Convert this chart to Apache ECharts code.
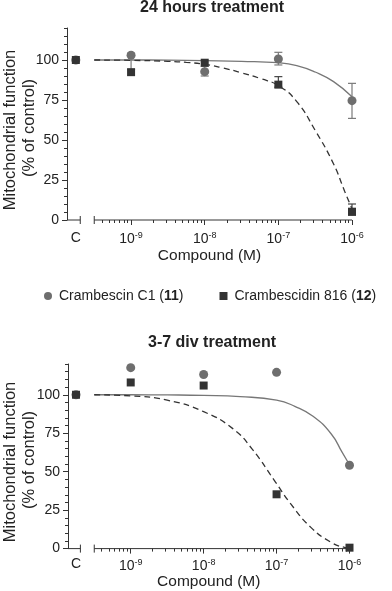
<!DOCTYPE html>
<html><head><meta charset="utf-8">
<script src="https://cdn.jsdelivr.net/npm/echarts@6/dist/echarts.min.js"></script>
<style>html,body{margin:0;padding:0;background:#fff}#c{width:392px;height:591px}</style>
</head><body><div id="c"></div>
<script>
// ---------- data ----------
const C_POS = -9.75;                       // log10 position used for the control "C"
const xValues = [C_POS, -9, -8, -7, -6];   // C, 1e-9, 1e-8, 1e-7, 1e-6 (log10 M)
const majorTicks = [-9, -8, -7, -6];
const minorMultipliers = [4, 5, 6, 7, 8, 9, 2, 3];
const yLabels = [0, 25, 50, 75, 100];
const yMinor = [5,10,15,20,30,35,40,45,55,60,65,70,80,85,90,95,105,110,115,120];
const cSegment = [-9.69];                  // end of the "C" axis stub
const logSegment = [-9.5, -6];             // extent of the log axis part

const names = ['Crambescin C1 (11)', 'Crambescidin 816 (12)'];

// 24 hours treatment
const h24_c1 = [100, 103, 92.7, 100.6, 74.6];
const h24_c1_lo = [null, 94, 90, 96.9, 63.5];
const h24_c1_hi = [null, 104.3, 96, 104.8, 85.4];
const h24_816 = [100, 92.4, 98.3, 84.6, 5.2];
const h24_816_lo = [null, null, null, 83, 3];
const h24_816_hi = [null, null, null, 89.6, 10];
const h24_fit_c1 = [[-9.5,100],[-9,100],[-8.5,99.9],[-8,99.6],[-7.5,99.2],[-7,98.3],[-6.75,96.5],[-6.5,92.5],[-6.25,86.5],[-6,77]];
const h24_fit_816 = [[-9.5,100],[-9,99.8],[-8.5,99.2],[-8.25,98.5],[-8,97.3],[-7.75,95],[-7.5,92],[-7.25,88.5],[-7,84],[-6.75,74],[-6.5,56],[-6.25,35],[-6.1,18],[-6,7]];

// 3-7 div treatment
const div_c1 = [100, 117.6, 113.2, 114.6, 54.2];
const div_816 = [100, 108, 106, 35.3, 0.6];
const div_fit_c1 = [[-9.5,100],[-9,100],[-8.5,99.9],[-8,99.6],[-7.5,98.8],[-7,96.5],[-6.75,92.5],[-6.5,86],[-6.25,74.5],[-6.1,62.5],[-6,54.5]];
const div_fit_816 = [[-9.5,100],[-9,99.3],[-8.5,96.5],[-8,89],[-7.6,78],[-7.34,65],[-7.02,43.6],[-6.8,28.7],[-6.53,13.8],[-6.26,4.3],[-6.07,0.8],[-6,0.4]];

// ---------- helpers ----------
const FONT = '"Liberation Sans", Arial, Helvetica, sans-serif';
const TXT = '#222';
const AX = '#333';
const GRAY = '#6e6e6e';
const DARK = '#333333';

const minorX = [];
for (let n = -10; n <= -7; n++) {
  minorMultipliers.forEach(k => {
    const v = n + Math.log10(k);
    if (v > logSegment[0] + 0.005 && v < logSegment[1] - 0.005 && majorTicks.indexOf(v) < 0) minorX.push(v);
  });
}

function errData(lo, hi) {
  const out = [];
  xValues.forEach((x, i) => { if (lo[i] != null && hi[i] != null) out.push([x, lo[i], hi[i]]); });
  return out;
}
function pts(vals) { return xValues.map((x, i) => [x, vals[i]]); }

function errRender(color) {
  return function (params, api) {
    const x = api.value(0);
    const a = api.coord([x, api.value(1)]);
    const b = api.coord([x, api.value(2)]);
    const w = 4;
    const st = { stroke: color, lineWidth: 1.2 };
    return { type: 'group', children: [
      { type: 'line', shape: { x1: a[0], y1: a[1], x2: b[0], y2: b[1] }, style: st },
      { type: 'line', shape: { x1: a[0]-w, y1: a[1], x2: a[0]+w, y2: a[1] }, style: st },
      { type: 'line', shape: { x1: b[0]-w, y1: b[1], x2: b[0]+w, y2: b[1] }, style: st }
    ]};
  };
}
function axisRender(params, api) {
  const p0 = api.coord([api.value(0), 0]);
  const p1 = api.coord([api.value(1), 0]);
  const b = api.coord([api.value(2), 0]);
  const st = { stroke: AX, lineWidth: 1 };
  return { type: 'group', children: [
    { type: 'line', shape: { x1: p0[0], y1: p0[1], x2: p1[0], y2: p1[1] }, style: st },
    { type: 'line', shape: { x1: b[0], y1: b[1]-4, x2: b[0], y2: b[1]+4 }, style: st }
  ]};
}

function xAxes(grid, min, labelMargin, nameGap) {
  return [
    { type: 'value', gridIndex: grid, min: min, max: -6, position: 'bottom',
      axisLine: { show: false, onZero: false }, splitLine: { show: false },
      axisTick: { show: true, customValues: majorTicks, length: 5, lineStyle: { color: AX } },
      axisLabel: { customValues: xValues, margin: labelMargin, color: TXT, fontFamily: FONT, fontSize: 14,
        formatter: v => Math.abs(v - C_POS) < 1e-6 ? 'C' : '10{s|' + Math.round(v) + '}',
        rich: { s: { fontSize: 9, fontFamily: FONT, color: TXT, padding: [0, 0, 8, 0] } } },
      name: 'Compound (M)', nameLocation: 'middle', nameGap: nameGap,
      nameTextStyle: { fontSize: 15.5, color: TXT, fontFamily: FONT } },
    { type: 'value', gridIndex: grid, min: min, max: -6, position: 'bottom',
      axisLine: { show: false, onZero: false }, splitLine: { show: false },
      axisTick: { show: true, customValues: minorX, length: 3, lineStyle: { color: AX } },
      axisLabel: { show: false } }
  ];
}
function yAxes(grid) {
  return [
    { type: 'value', gridIndex: grid, min: 0, max: 120, position: 'left',
      axisLine: { show: true, lineStyle: { color: AX } }, splitLine: { show: false },
      axisTick: { show: true, customValues: yLabels, length: 5, lineStyle: { color: AX } },
      axisLabel: { customValues: yLabels, margin: 8, color: TXT, fontFamily: FONT, fontSize: 14 } },
    { type: 'value', gridIndex: grid, min: 0, max: 120, position: 'left',
      axisLine: { show: false }, splitLine: { show: false },
      axisTick: { show: true, customValues: yMinor, length: 3, lineStyle: { color: AX } },
      axisLabel: { show: false } }
  ];
}

function panelSeries(xi, yi, xmin, fitC1, fit816, c1, s816, errC1, err816) {
  const s = [
    { type: 'custom', name: 'axis', xAxisIndex: xi, yAxisIndex: yi, renderItem: axisRender, silent: true,
      data: [[xmin, cSegment[0], cSegment[0]], [logSegment[0], logSegment[1], logSegment[0]]], z: 1 },
    { type: 'line', name: 'fit1', xAxisIndex: xi, yAxisIndex: yi, data: fitC1, smooth: true, showSymbol: false,
      lineStyle: { color: '#777', width: 1.3 }, silent: true, z: 2 },
    { type: 'line', name: 'fit2', xAxisIndex: xi, yAxisIndex: yi, data: fit816, smooth: true, showSymbol: false,
      lineStyle: { color: DARK, width: 1.3, type: [6, 4] }, silent: true, z: 2 }
  ];
  if (errC1) s.push({ type: 'custom', name: 'err1', xAxisIndex: xi, yAxisIndex: yi, renderItem: errRender('#7a7a7a'), data: errC1, z: 3 });
  if (err816) s.push({ type: 'custom', name: 'err2', xAxisIndex: xi, yAxisIndex: yi, renderItem: errRender('#444'), data: err816, z: 3 });
  s.push({ type: 'scatter', name: names[0], xAxisIndex: xi, yAxisIndex: yi, data: pts(c1), symbol: 'circle', symbolSize: 9,
    itemStyle: { color: GRAY, opacity: 1 }, z: 4 });
  s.push({ type: 'scatter', name: names[1], xAxisIndex: xi, yAxisIndex: yi, data: pts(s816), symbol: 'rect', symbolSize: 8,
    itemStyle: { color: DARK, opacity: 1 }, z: 5 });
  return s;
}

const TOP_MIN = -9.87, BOT_MIN = -9.86;

const option = {
  backgroundColor: '#fff',
  animation: false,
  textStyle: { fontFamily: FONT },
  title: [
    { text: '24 hours treatment', left: 212, top: 0, textAlign: 'center', padding: 0,
      textStyle: { fontSize: 16, fontWeight: 'bold', color: TXT, fontFamily: FONT } },
    { text: '3-7 div treatment', left: 212, top: 335, textAlign: 'center', padding: 0,
      textStyle: { fontSize: 16, fontWeight: 'bold', color: TXT, fontFamily: FONT } }
  ],
  legend: {
    data: [{ name: names[0], icon: 'circle' }, { name: names[1], icon: 'rect' }],
    left: 39, top: 284, itemWidth: 8, itemHeight: 8, itemGap: 36, selectedMode: false,
    formatter: n => n.replace(/\((\d+)\)/, '({b|$1})'),
    textStyle: { fontSize: 14, color: TXT, fontFamily: FONT, padding: [0, 0, 0, 2],
      rich: { b: { fontSize: 14, fontWeight: 'bold', color: TXT, fontFamily: FONT } } }
  },
  grid: [
    { left: 67, right: 40, top: 28, bottom: 371 },
    { left: 68, right: 42.5, top: 364, bottom: 39.3 }
  ],
  xAxis: [].concat(xAxes(0, TOP_MIN, 11, 25), xAxes(1, BOT_MIN, 9, 22)),
  yAxis: [].concat(yAxes(0), yAxes(1)),
  graphic: [
    { type: 'text', x: 10, y: 130, rotation: Math.PI / 2,
      style: { text: 'Mitochondrial function', font: '16.5px ' + FONT, fill: TXT, align: 'center', verticalAlign: 'middle' } },
    { type: 'text', x: 29, y: 128, rotation: Math.PI / 2,
      style: { text: '(% of control)', font: '16.5px ' + FONT, fill: TXT, align: 'center', verticalAlign: 'middle' } },
    { type: 'text', x: 10, y: 462, rotation: Math.PI / 2,
      style: { text: 'Mitochondrial function', font: '16.5px ' + FONT, fill: TXT, align: 'center', verticalAlign: 'middle' } },
    { type: 'text', x: 29, y: 460, rotation: Math.PI / 2,
      style: { text: '(% of control)', font: '16.5px ' + FONT, fill: TXT, align: 'center', verticalAlign: 'middle' } }
  ],
  series: [].concat(
    panelSeries(0, 0, TOP_MIN, h24_fit_c1, h24_fit_816, h24_c1, h24_816, errData(h24_c1_lo, h24_c1_hi), errData(h24_816_lo, h24_816_hi)),
    panelSeries(2, 2, BOT_MIN, div_fit_c1, div_fit_816, div_c1, div_816, null, null)
  )
};

const chart = echarts.init(document.getElementById('c'), null, { renderer: 'canvas' });
chart.setOption(option);
</script>
</body></html>
